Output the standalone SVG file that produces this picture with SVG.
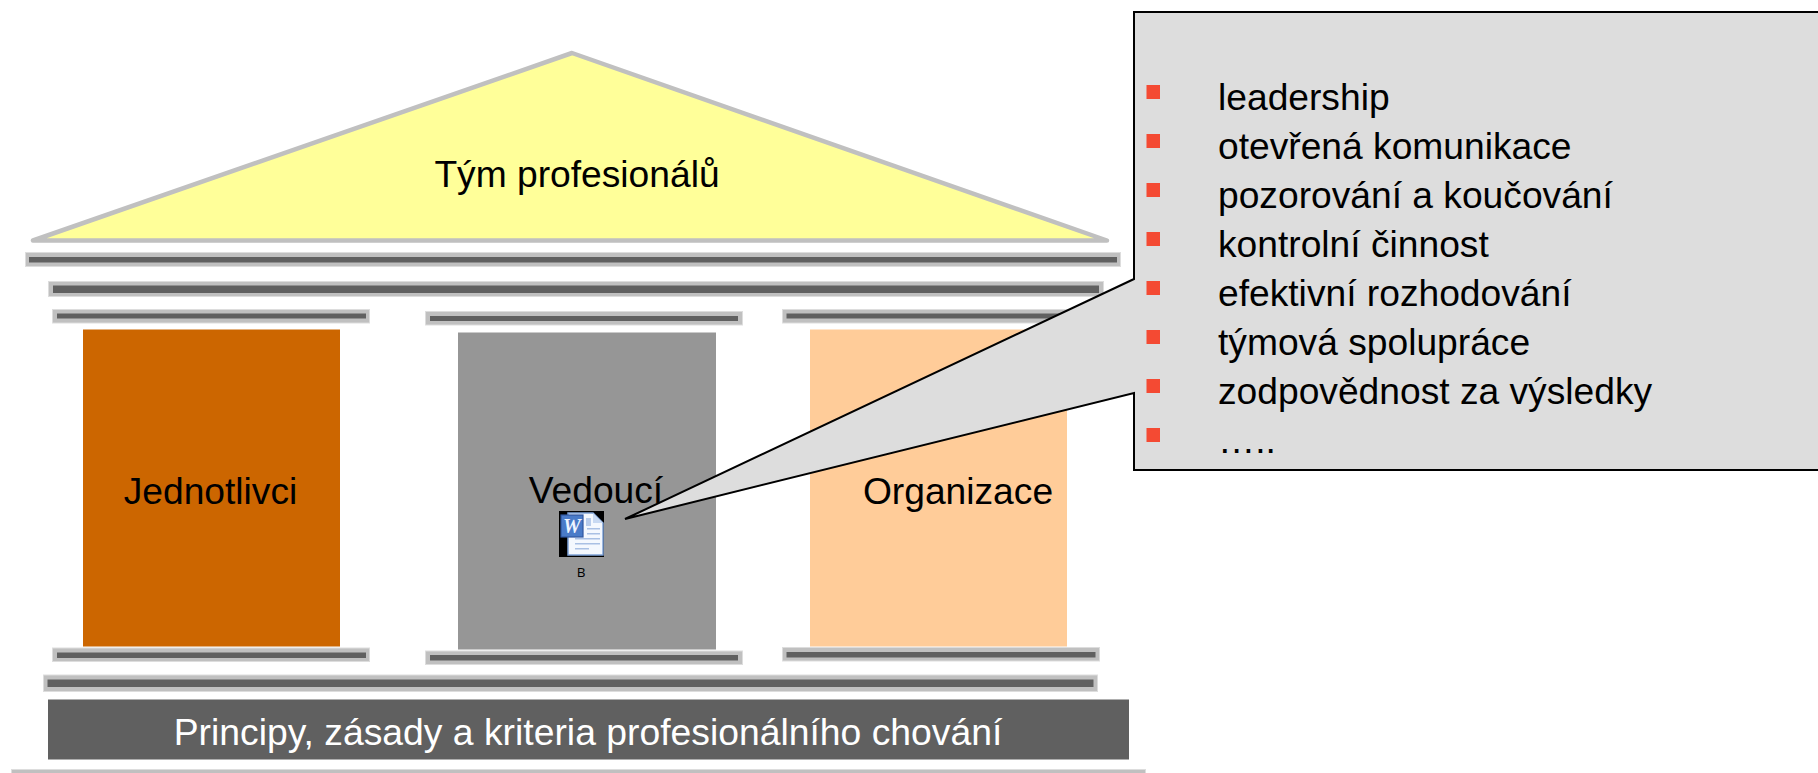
<svg xmlns="http://www.w3.org/2000/svg" width="1818" height="773" viewBox="0 0 1818 773">
<style>
text{font-family:"Liberation Sans",Arial,sans-serif;fill:#000}
.t{font-size:37.2px}
.o{fill:#c0c0c0;stroke:#dddddd;stroke-width:1}
.i{fill:#606060}
.b{fill:#f44a33}
</style>
<rect width="1818" height="773" fill="#ffffff"/>
<g id="roof">
<polygon points="572,53 33,240.5 1107,240.5" fill="#ffff99" stroke="#c0c0c0" stroke-width="4.500" stroke-linejoin="round"/>
<text class="t" x="577" y="187" text-anchor="middle">Tým profesionálů</text>
</g>
<g id="beam-top"><rect class="o" x="25.500" y="252.500" width="1095" height="14"/><rect class="i" x="29" y="257" width="1088" height="5.500"/></g>
<g id="beam-upper"><rect class="o" x="48.500" y="281.500" width="1055" height="15"/><rect class="i" x="53" y="285.500" width="1046" height="7.500"/></g>
<g id="cap-1"><rect class="o" x="52.500" y="309.500" width="317" height="13.500"/><rect class="i" x="57" y="313.500" width="309" height="5"/></g>
<g id="cap-2"><rect class="o" x="425.500" y="311.500" width="317" height="13.500"/><rect class="i" x="430" y="316" width="308" height="5"/></g>
<g id="cap-3"><rect class="o" x="782.500" y="309.500" width="317" height="13.500"/><rect class="i" x="786.500" y="313.500" width="309" height="5"/></g>
<g id="pillar-jednotlivci"><rect x="83" y="329.500" width="257" height="317" fill="#cc6600"/><text class="t" x="210.500" y="503.500" text-anchor="middle">Jednotlivci</text></g>
<g id="pillar-vedouci"><rect x="458" y="332.500" width="258" height="317" fill="#969696"/><text class="t" x="596" y="503" text-anchor="middle">Vedoucí</text></g>
<g id="pillar-organizace"><rect x="810" y="329.500" width="257" height="317" fill="#ffcc99"/><text class="t" x="958" y="503.500" text-anchor="middle">Organizace</text></g>
<g id="base-cap-1"><rect class="o" x="52.500" y="648" width="317" height="13.500"/><rect class="i" x="57" y="652.500" width="309" height="5.500"/></g>
<g id="base-cap-2"><rect class="o" x="425.500" y="651" width="317" height="13.500"/><rect class="i" x="430" y="655" width="308" height="5.500"/></g>
<g id="base-cap-3"><rect class="o" x="782.500" y="647.500" width="317" height="13.500"/><rect class="i" x="786.500" y="652" width="309" height="5.500"/></g>
<g id="beam-lower"><rect class="o" x="43.500" y="675" width="1054" height="16.500"/><rect class="i" x="47.500" y="679.500" width="1046" height="7.500"/></g>
<g id="foundation"><rect x="48" y="699.500" width="1081" height="60" fill="#606060"/><text x="588" y="744.500" font-size="37.300" text-anchor="middle" style="fill:#ffffff">Principy, zásady a kriteria profesionálního chování</text></g>
<rect id="ground" x="11.500" y="769.500" width="1134" height="5" fill="#c0c0c0" stroke="#dddddd" stroke-width="1"/>
<g id="callout">
<polygon points="1134,12 1830,12 1830,470 1134,470 1134,393 625,519 1134,279" fill="#dddddd" stroke="#000000" stroke-width="2"/>
<rect class="b" x="1146.500" y="85" width="13.500" height="14"/>
<rect class="b" x="1146.500" y="134" width="13.500" height="14"/>
<rect class="b" x="1146.500" y="183" width="13.500" height="14"/>
<rect class="b" x="1146.500" y="232" width="13.500" height="14"/>
<rect class="b" x="1146.500" y="281" width="13.500" height="14"/>
<rect class="b" x="1146.500" y="330" width="13.500" height="14"/>
<rect class="b" x="1146.500" y="379" width="13.500" height="14"/>
<rect class="b" x="1146.500" y="428" width="13.500" height="14"/>
<text class="t" x="1218" y="110">leadership</text>
<text class="t" x="1218" y="159">otevřená komunikace</text>
<text class="t" x="1218" y="208">pozorování a koučování</text>
<text class="t" x="1218" y="257">kontrolní činnost</text>
<text class="t" x="1218" y="306">efektivní rozhodování</text>
<text class="t" x="1218" y="355">týmová spolupráce</text>
<text class="t" x="1218" y="404">zodpovědnost za výsledky</text>
<text class="t" x="1218" y="453">…..</text>
</g>
<g id="word-icon">
<rect x="559" y="511" width="45" height="46" fill="#000000"/>
<polygon points="568,513 593,513 603,523 603,555 568,555" fill="#f4f8fe" stroke="#7fa2d8" stroke-width="1.500"/>
<polygon points="593,513 593,523 603,523" fill="#c8d9f2"/>
<rect x="586" y="518" width="5" height="8" fill="#b9cdec"/>
<rect x="587" y="528" width="13" height="1.500" fill="#a9c0e4"/>
<rect x="587" y="533" width="13" height="1.500" fill="#a9c0e4"/>
<rect x="575" y="538" width="25" height="1.500" fill="#a9c0e4"/>
<rect x="575" y="543" width="25" height="1.500" fill="#a9c0e4"/>
<rect x="575" y="548" width="14" height="1.500" fill="#a9c0e4"/>
<rect x="561" y="515" width="22" height="22" fill="#4a7bc8" stroke="#2f569f" stroke-width="1.200"/>
<text x="572" y="533" font-size="20" font-weight="bold" font-style="italic" text-anchor="middle" style="fill:#eef4ff;font-family:'Liberation Serif',serif">W</text>
<text x="581" y="577" font-size="13.500" text-anchor="middle" style="font-family:'Open Sans',sans-serif">B</text>
</g>
</svg>
